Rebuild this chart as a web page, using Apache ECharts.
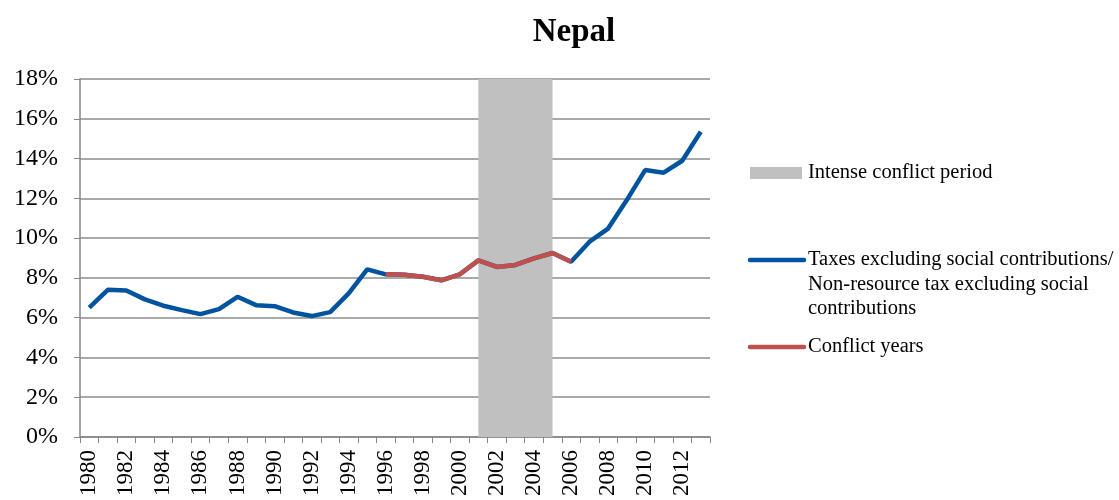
<!DOCTYPE html>
<html><head><meta charset="utf-8">
<script src="https://cdn.jsdelivr.net/npm/echarts@6/dist/echarts.min.js"></script>
<style>html,body{margin:0;padding:0;background:#fff}#c{width:1119px;height:500px}</style>
</head><body><div id="c"></div>
<script>
var years = ['1980','1981','1982','1983','1984','1985','1986','1987','1988','1989','1990','1991','1992','1993','1994','1995','1996','1997','1998','1999','2000','2001','2002','2003','2004','2005','2006','2007','2008','2009','2010','2011','2012','2013'];
var taxValues = [6.5,7.4,7.37,6.92,6.6,6.38,6.18,6.43,7.05,6.63,6.58,6.26,6.08,6.28,7.22,8.43,8.18,8.16,8.06,7.88,8.18,8.88,8.55,8.65,8.98,9.25,8.81,9.82,10.48,11.9,13.42,13.29,13.89,15.35];
var conflictYears = ['1996','1997','1998','1999','2000','2001','2002','2003','2004','2005','2006'];
var intensePeriod = ['2001','2005'];
var yTicks = [0,2,4,6,8,10,12,14,16,18];

var conflictValues = years.map(function(y,i){ return conflictYears.indexOf(y) >= 0 ? taxValues[i] : null; });
var font = 'Liberation Serif';
var lf = '20.5px "Liberation Serif"';
var chart = echarts.init(document.getElementById('c'));
chart.setOption({
  animation:false,
  title:{text:'Nepal', left:569, top:11, textAlign:'center', textStyle:{fontFamily:font, fontSize:33, fontWeight:'bold', color:'#000'}},
  grid:{left:80, right:409, top:79, bottom:63, containLabel:false},
  xAxis:{type:'category', data:years, boundaryGap:true,
    axisLine:{lineStyle:{color:'#868686', width:1.5}},
    axisTick:{show:true, interval:0, length:6, lineStyle:{color:'#868686'}},
    axisLabel:{interval:1, rotate:90, fontFamily:font, fontSize:23, color:'#000', margin:13}
  },
  yAxis:{type:'value', min:yTicks[0], max:yTicks[yTicks.length-1], interval:2,
    axisLine:{show:true, lineStyle:{color:'#868686', width:1.5}},
    axisTick:{show:true, length:6, lineStyle:{color:'#868686'}},
    splitLine:{lineStyle:{color:'#8c8c8c', width:1.5}},
    axisLabel:{formatter:'{value}%', fontFamily:font, fontSize:24, color:'#000', margin:22}
  },
  series:[
    {type:'line', name:'Intense conflict period', data:years.map(function(){return null;}), z:1, silent:true,
     markArea:{silent:true, itemStyle:{color:'#c0c0c0', opacity:1}, data:[[{xAxis:intensePeriod[0]},{xAxis:intensePeriod[1]}]]}},
    {type:'line', name:'Taxes', data:taxValues, z:3, symbol:'none', lineStyle:{color:'#00539f', width:4.5}},
    {type:'line', name:'Conflict years', data:conflictValues, z:4, symbol:'none', lineStyle:{color:'#c0504d', width:4.5}}
  ],
  graphic:[
    {type:'rect', shape:{x:750,y:167,width:52,height:12}, style:{fill:'#c0c0c0'}},
    {type:'text', x:808, y:173, style:{text:'Intense conflict period', font:lf, fill:'#000', textVerticalAlign:'middle'}},
    {type:'line', shape:{x1:750,y1:260,x2:804,y2:260}, style:{stroke:'#00539f', lineWidth:4.5, lineCap:'round'}},
    {type:'text', x:808, y:260, style:{text:'Taxes excluding social contributions/', font:lf, fill:'#000', textVerticalAlign:'middle'}},
    {type:'text', x:808, y:285, style:{text:'Non-resource tax excluding social', font:lf, fill:'#000', textVerticalAlign:'middle'}},
    {type:'text', x:808, y:309, style:{text:'contributions', font:lf, fill:'#000', textVerticalAlign:'middle'}},
    {type:'line', shape:{x1:750,y1:347,x2:804,y2:347}, style:{stroke:'#c0504d', lineWidth:4.5, lineCap:'round'}},
    {type:'text', x:808, y:347, style:{text:'Conflict years', font:lf, fill:'#000', textVerticalAlign:'middle'}}
  ]
});
</script></body></html>
